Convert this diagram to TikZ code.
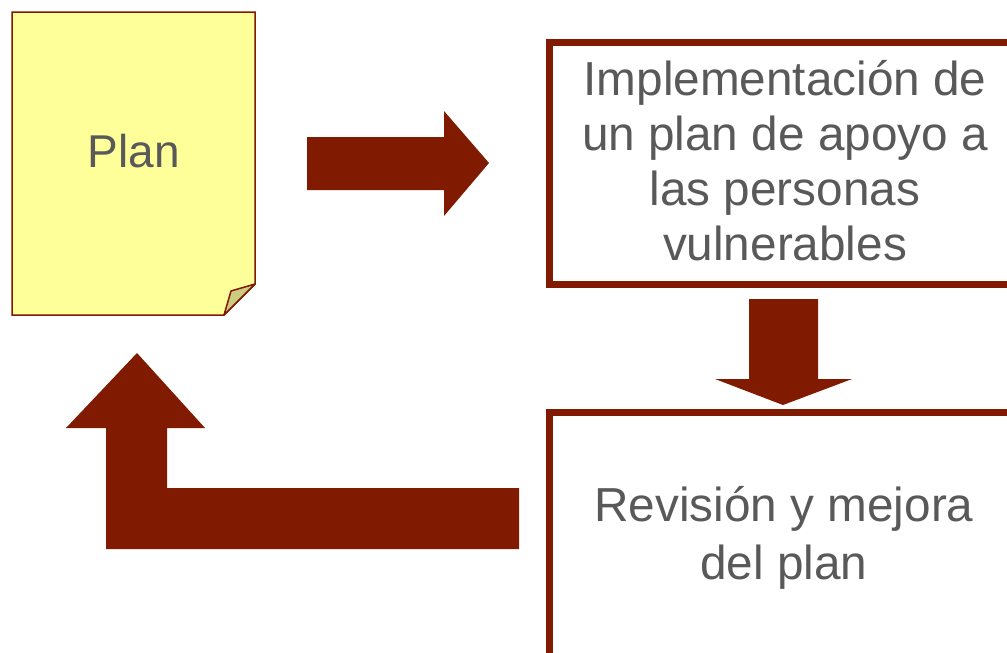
\documentclass[tikz,border=0pt]{standalone}
\usepackage{fontspec}
\setmainfont{Liberation Sans}
\definecolor{darkred}{HTML}{801A00}
\definecolor{txtgray}{HTML}{595959}
\definecolor{noteyellow}{HTML}{FFFF99}
\definecolor{foldkhaki}{HTML}{CCCC80}
\begin{document}
\begin{tikzpicture}[x=1pt,y=-1pt,
  blockarrow/.style={fill=darkred,draw=none},
  boxframe/.style={draw=darkred,line width=7pt,fill=white},
  label/.style={text=txtgray,align=center,inner sep=0pt}]
\useasboundingbox (0,0) rectangle (1007,653);
\clip (0,0) rectangle (1007,653);
\fill[white] (0,0) rectangle (1007,653);
% Plan note
\draw[darkred,line width=1.5pt,fill=noteyellow] (12,12) -- (255,12) -- (255,284) -- (224,315) -- (12,315) -- cycle;
\draw[darkred,line width=1.5pt,fill=foldkhaki,line join=round] (255,284) -- (231,291) -- (224,315) -- cycle;
\node[label,anchor=base,font=\fontsize{46}{55}\selectfont] (plan) at (134,167) {Plan};
% Box 1
\draw[boxframe] (549.5,42.5) rectangle (1020,284.5);
\node[label,font=\fontsize{47.7}{55}\selectfont] (impl) at (785,161) {Implementación de\\un plan de apoyo a\\las personas\\vulnerables};
% Box 2
\draw[boxframe] (549.5,412.5) rectangle (1020,680);
\node[label,font=\fontsize{47.7}{58}\selectfont] (rev) at (784,538) {Revisión y mejora\\del plan};
% right arrow
\fill[blockarrow] (307,137) -- (444,137) -- (444,111) -- (489,163) -- (444,216) -- (444,190) -- (307,190) -- cycle;
% down arrow
\fill[blockarrow] (749,299) -- (818,299) -- (818,379) -- (852,379) -- (783,405) -- (715,379) -- (749,379) -- cycle;
% L arrow
\fill[blockarrow] (519,488) -- (167,488) -- (167,428) -- (205,428) -- (137,353) -- (66,428) -- (106,428) -- (106,549) -- (519,549) -- cycle;
\end{tikzpicture}
\end{document}
